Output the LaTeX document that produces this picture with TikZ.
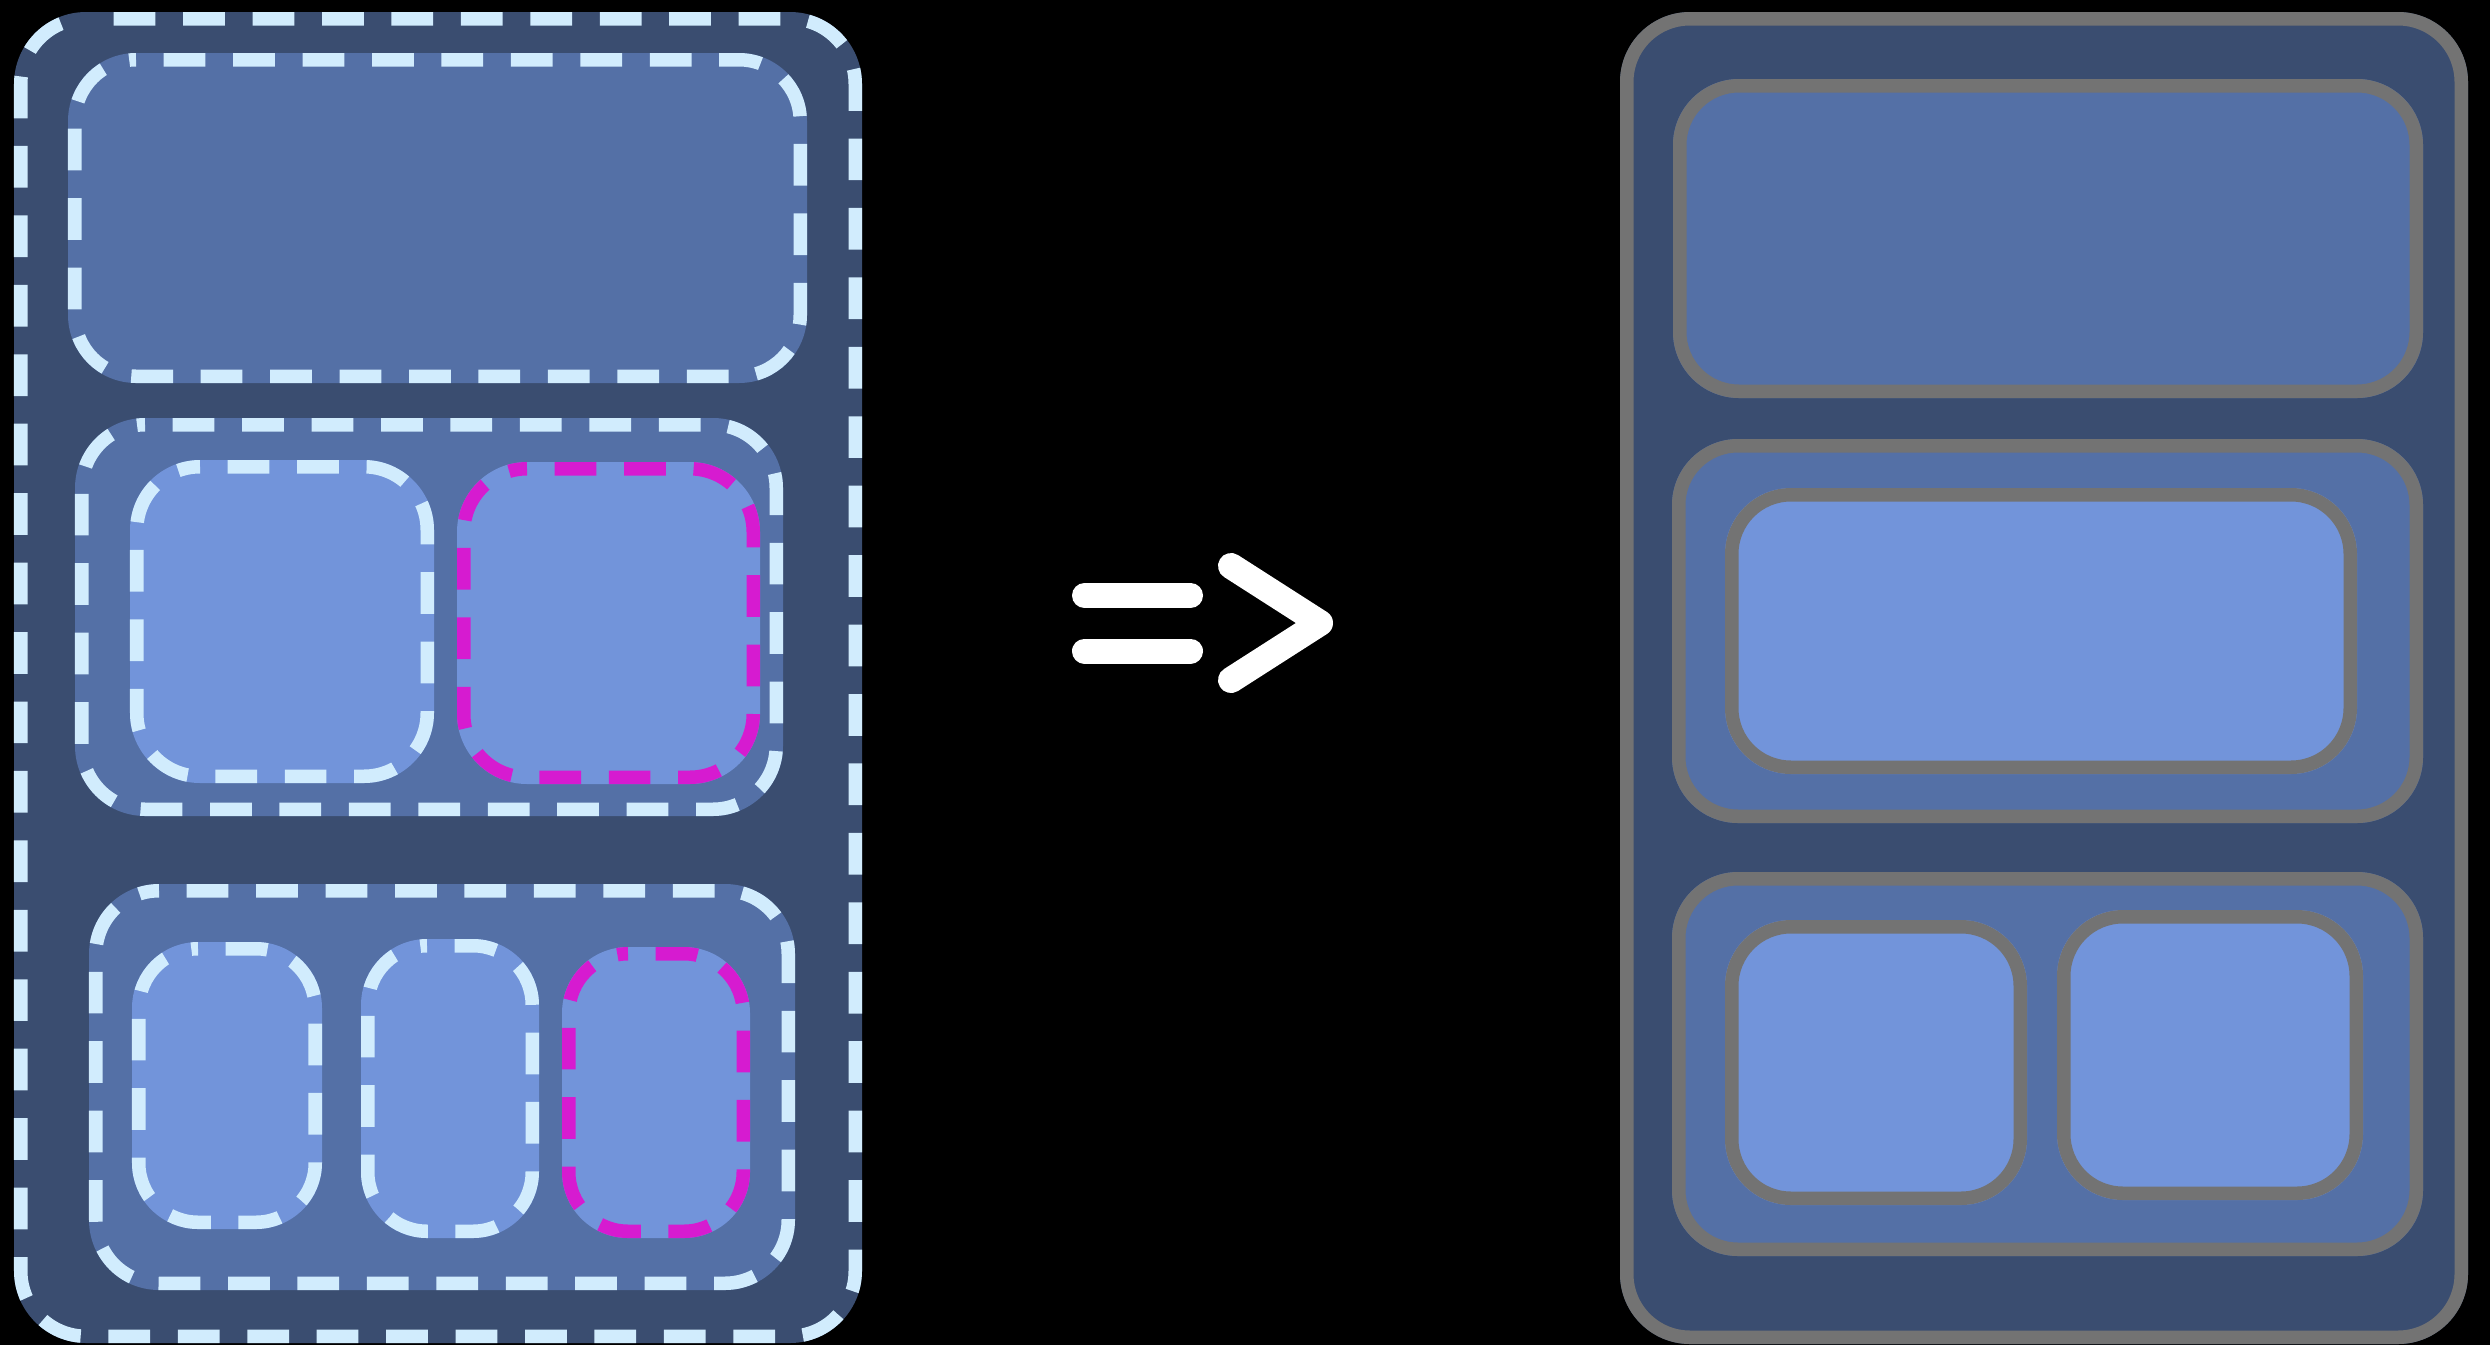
\documentclass[tikz,border=0pt]{standalone}
\usepackage{tikz}
\definecolor{bgouter}{HTML}{3A4D70}
\definecolor{bggroup}{HTML}{5470A6}
\definecolor{bginner}{HTML}{7294DA}
\definecolor{dashlight}{HTML}{D1ECFD}
\definecolor{dashmag}{HTML}{D61BD0}
\definecolor{edgegray}{HTML}{737373}
\tikzset{
  lightdash/.style={draw=dashlight, line width=0.135cm, dash pattern=on 0.417cm off 0.277cm, dash phase=0.417cm},
  magdash/.style={draw=dashmag, line width=0.135cm, dash pattern=on 0.417cm off 0.277cm, dash phase=0.417cm},
  grayedge/.style={draw=edgegray, line width=0.135cm},
  arrowstroke/.style={draw=white, line width=0.26cm, line cap=round, line join=round}
}
% #1 x1, #2 y1, #3 x2, #4 y2 (outer edges, px), #5 radius, #6 fill colour, #7 stroke style
\newcommand\mybox[7]{%
  \path[fill=#6, rounded corners={#5*0.01cm}] (#1,#2) rectangle (#3,#4);
  \path[#7, rounded corners={(#5-6.75)*0.01cm}] (#1+#5,#2+6.75) -- (#3-6.75,#2+6.75) -- (#3-6.75,#4-6.75) -- (#1+6.75,#4-6.75) -- (#1+6.75,#2+6.75) -- (#1+#5,#2+6.75);
}
\begin{document}
\begin{tikzpicture}[x=0.01cm, y=-0.01cm]
\fill[black] (0,0) rectangle (2490,1345);
\useasboundingbox (0,0) rectangle (2490,1345);
% ---- left panel (dashed) ----
\mybox{14}{12}{862}{1343}{72}{bgouter}{lightdash}
\mybox{68}{53}{807}{383}{68}{bggroup}{lightdash}
\mybox{75}{418}{783}{816}{70}{bggroup}{lightdash}
\mybox{130}{460}{434}{783}{70}{bginner}{lightdash}
\mybox{457}{462}{760}{784}{70}{bginner}{magdash}
\mybox{89}{884}{795}{1290}{70}{bggroup}{lightdash}
\mybox{132}{942}{322}{1229}{66}{bginner}{lightdash}
\mybox{361}{939}{539}{1238}{66}{bginner}{lightdash}
\mybox{562}{947}{750}{1238}{66}{bginner}{magdash}
% ---- arrow ----
\coordinate (barAl) at (1084.5,595.5);
\coordinate (barAr) at (1190.5,595.5);
\coordinate (barBl) at (1084.5,651);
\coordinate (barBr) at (1190.5,651);
\coordinate (chevT) at (1231,566);
\coordinate (chevM) at (1320,623);
\coordinate (chevB) at (1231,680);
\draw[arrowstroke, line width=0.25cm] (barAl) -- (barAr);
\draw[arrowstroke, line width=0.25cm] (barBl) -- (barBr);
\draw[arrowstroke] (chevT) -- (chevM) -- (chevB);
% ---- right panel (solid gray) ----
\mybox{1620}{12}{2468}{1344}{70}{bgouter}{grayedge}
\mybox{1673}{79}{2423}{398}{66}{bggroup}{grayedge}
\mybox{1672}{439}{2423}{823}{66}{bggroup}{grayedge}
\mybox{1725}{488}{2357}{774}{66}{bginner}{grayedge}
\mybox{1672}{872}{2423}{1256}{66}{bggroup}{grayedge}
\mybox{1725}{920}{2027}{1205}{66}{bginner}{grayedge}
\mybox{2057}{910}{2363}{1200}{66}{bginner}{grayedge}
\end{tikzpicture}
\end{document}
